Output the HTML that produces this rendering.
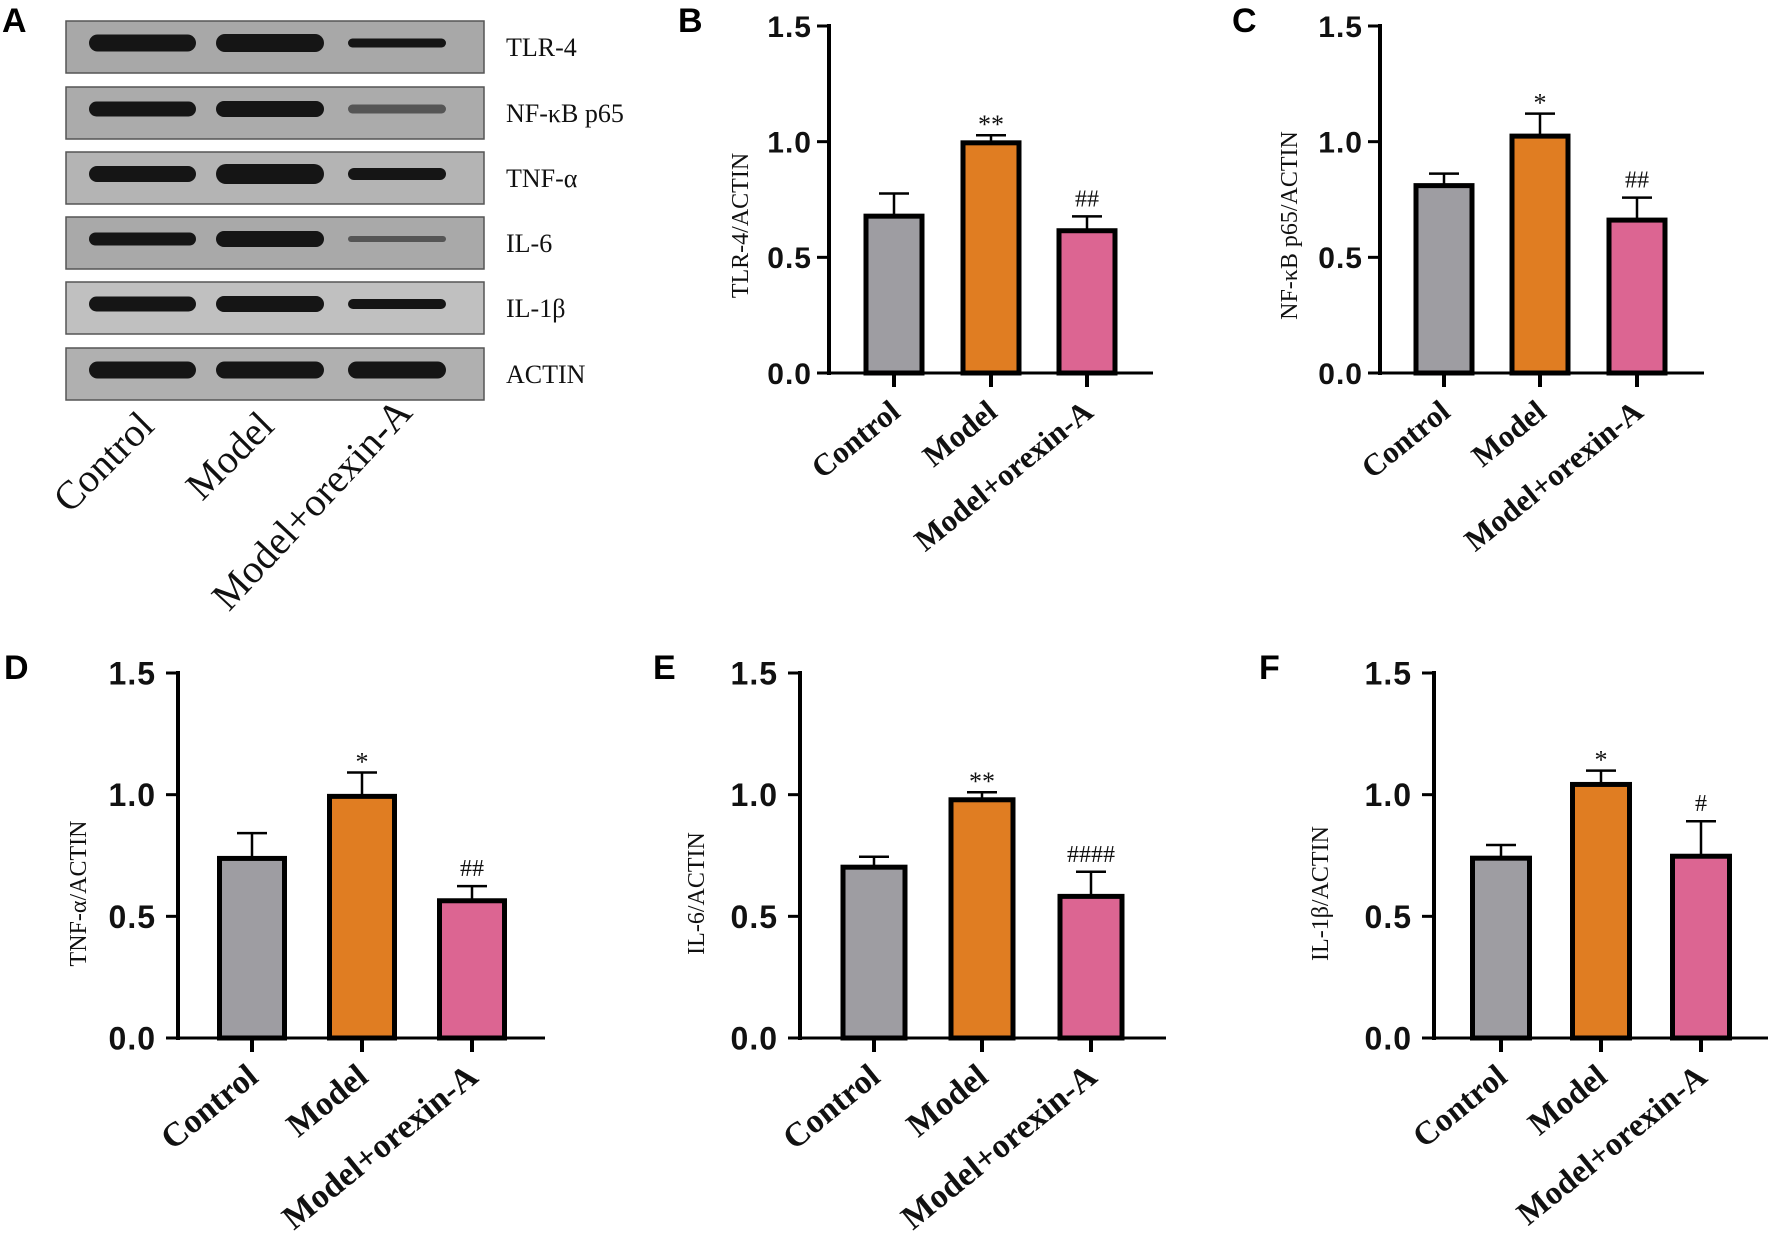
<!DOCTYPE html>
<html><head><meta charset="utf-8">
<style>
html,body{margin:0;padding:0;background:#fff;}
svg{display:block;}
.tick{font-family:"Liberation Sans",Arial,sans-serif;font-weight:bold;}
.serif{font-family:"Liberation Serif","Times New Roman",serif;}
.plab{font-family:"Liberation Sans",Arial,sans-serif;font-weight:bold;font-size:34px;}
</style></head>
<body>
<svg id="fig" width="1772" height="1234" viewBox="0 0 1772 1234" xmlns="http://www.w3.org/2000/svg">
<rect width="1772" height="1234" fill="#fff"/>
<g id="panelA"></g>
<g id="charts"></g>
</svg>
<script>
const categories = ["Control","Model","Model+orexin-A"];
const tickLabels = ["0.0","0.5","1.0","1.5"];
const tickValues = [0,0.5,1.0,1.5];
const blotLabels = ["TLR-4","NF-κB p65","TNF-α","IL-6","IL-1β","ACTIN"];

const valuesB = [0.678,0.995,0.615];
const errorsB = [0.098,0.033,0.062];
const sigB = ["","**","##"];
const valuesC = [0.810,1.024,0.661];
const errorsC = [0.052,0.097,0.097];
const sigC = ["","*","##"];
const valuesD = [0.738,0.993,0.564];
const errorsD = [0.104,0.098,0.060];
const sigD = ["","*","##"];
const valuesE = [0.702,0.979,0.582];
const errorsE = [0.043,0.031,0.101];
const sigE = ["","**","####"];
const valuesF = [0.739,1.042,0.747];
const errorsF = [0.054,0.057,0.144];
const sigF = ["","*","#"];

const NS = "http://www.w3.org/2000/svg";
const colors = ["#9e9da2","#e07d22","#dc6592"];
function mk(tag, attrs, parent){
  const e = document.createElementNS(NS, tag);
  for (const k in attrs) e.setAttribute(k, attrs[k]);
  parent.appendChild(e);
  return e;
}

/* ---------- Panel A: western blot ---------- */
const A = document.getElementById('panelA');
const rowTops = [21,87,152,217,282,348];
const rowBg = ["#a8a8a8","#ababab","#b4b4b4","#a9a9a9","#c0c0c0","#b0b0b0"];
const bandH = [[17,18,9],[15,16,9],[16,20,12],[13,16,6],[15,16,10],[17,17,17]];
const lanes = [[89,196],[216,324],[348,446]];
blotLabels.forEach((lab,i)=>{
  const y = rowTops[i];
  const g = mk('g',{},A);
  
  
  const r = mk('rect',{x:66,y:y,width:418,height:52,fill:rowBg[i],stroke:"#555",'stroke-width':1.5},g);
  
  
  lanes.forEach((ln,j)=>{
    const h = bandH[i][j];
    const b = mk('rect',{x:ln[0],y:y+22-h/2,width:ln[1]-ln[0],height:h,rx:h/2,fill:j==2&&(i==3||i==1)?"#555":"#151515"},g);
    
    
  });
  const t = mk('text',{x:506,y:y+35,class:'serif','font-size':26,fill:'#111'},g);
  t.textContent = lab;
  
  
});
const laneLabelPos = [[156,428,-45],[276,428,-45],[414,414,-47]];
categories.forEach((c,i)=>{
  const p = laneLabelPos[i];
  const t = mk('text',{x:p[0],y:p[1],class:'serif','font-size':40,'text-anchor':'end',transform:`rotate(${p[2]} ${p[0]} ${p[1]})`,fill:'#111'},A);
  t.textContent = c;
  
  
});
const la = mk('text',{x:2,y:32,class:'plab'},A);
la.textContent='A';



/* ---------- Bar charts ---------- */
const panels = [
  {id:'B',title:'TLR-4/ACTIN',vals:valuesB,errs:errorsB,sig:sigB,ax:829,axEnd:1153,y0:373,y15:26,ticks:[894,991,1087],bw:61,tf:30,xf:31,titleX:740,letter:[678,32],tickGap:17},
  {id:'C',title:'NF-κB p65/ACTIN',vals:valuesC,errs:errorsC,sig:sigC,ax:1380,axEnd:1704,y0:373,y15:26,ticks:[1444,1540,1637],bw:61,tf:30,xf:31,titleX:1289,letter:[1232,32],tickGap:17},
  {id:'D',title:'TNF-α/ACTIN',vals:valuesD,errs:errorsD,sig:sigD,ax:178,axEnd:545,y0:1038,y15:673,ticks:[252,362,472],bw:70,tf:32,xf:34,titleX:78,letter:[4,679],tickGap:22},
  {id:'E',title:'IL-6/ACTIN',vals:valuesE,errs:errorsE,sig:sigE,ax:800,axEnd:1166,y0:1038,y15:673,ticks:[874,982,1091],bw:67,tf:32,xf:34,titleX:696,letter:[653,679],tickGap:22},
  {id:'F',title:'IL-1β/ACTIN',vals:valuesF,errs:errorsF,sig:sigF,ax:1434,axEnd:1768,y0:1038,y15:673,ticks:[1501,1601,1701],bw:62,tf:32,xf:33,titleX:1320,letter:[1259,679],tickGap:22}
];
const charts = document.getElementById('charts');
panels.forEach(p=>{
  const g = mk('g',{},charts);
  
  
  const yScale = v => p.y0 - (v/1.5)*(p.y0 - p.y15);
  const xScale = i => p.ticks[i];
  const L = mk('text',{x:p.letter[0],y:p.letter[1],class:'plab'},g);
  L.textContent = p.id;
  
  
  p.vals.forEach((v,i)=>{
    const cx = xScale(i), top = yScale(v);
    const bar = mk('rect',{x:cx-p.bw/2+2.5,y:top,width:p.bw-5,height:p.y0-top,fill:colors[i],stroke:'#000','stroke-width':5},g);
    
    
    const et = yScale(v + p.errs[i]);
    const el = mk('path',{d:`M${cx} ${top} V${et} M${cx-15} ${et} H${cx+15}`,stroke:'#000','stroke-width':2.5,fill:'none'},g);
    
    
    if (p.sig[i]){
      const isStar = p.sig[i][0]=='*';
      const st = mk('text',{x:cx,y:et-(isStar?2:10),class:'serif','font-size':isStar?26:24,'text-anchor':'middle',fill:'#111'},g);
      st.textContent = p.sig[i];
      
      
    }
    const xt = mk('line',{x1:cx,y1:p.y0,x2:cx,y2:p.y0+14,stroke:'#000','stroke-width':4},g);
    
    
    const lx = cx+8, ly = p.y0+42;
    const xl = mk('text',{x:lx,y:ly,class:'serif','font-weight':'bold','font-size':p.xf,'text-anchor':'end',transform:`rotate(-39 ${lx} ${ly})`,fill:'#111'},g);
    xl.textContent = categories[i];
    
    
  });
  const ya = mk('line',{x1:p.ax,y1:p.y15-2,x2:p.ax,y2:p.y0+2,stroke:'#000','stroke-width':4},g);
  
  
  const xa = mk('line',{x1:p.ax-12,y1:p.y0,x2:p.axEnd,y2:p.y0,stroke:'#000','stroke-width':3},g);
  
  
  tickValues.forEach((tv,k)=>{
    const y = yScale(tv);
    const tl = mk('line',{x1:p.ax-12,y1:y,x2:p.ax,y2:y,stroke:'#000','stroke-width':3},g);
    
    
    const tt = mk('text',{x:p.ax-p.tickGap,y:y+p.tf*0.36,class:'tick','font-size':p.tf,'text-anchor':'end','letter-spacing':1,fill:'#111'},g);
    tt.textContent = tickLabels[k];
    
    
  });
  const cy = (p.y0 + p.y15)/2 + (p.y0<500 ? 26 : 38);
  const yt = mk('text',{x:p.titleX+8,y:cy,class:'serif','font-size':24,'text-anchor':'middle',transform:`rotate(-90 ${p.titleX+8} ${cy})`,fill:'#111'},g);
  yt.textContent = p.title;
  
  
});
</script>
</body></html>
